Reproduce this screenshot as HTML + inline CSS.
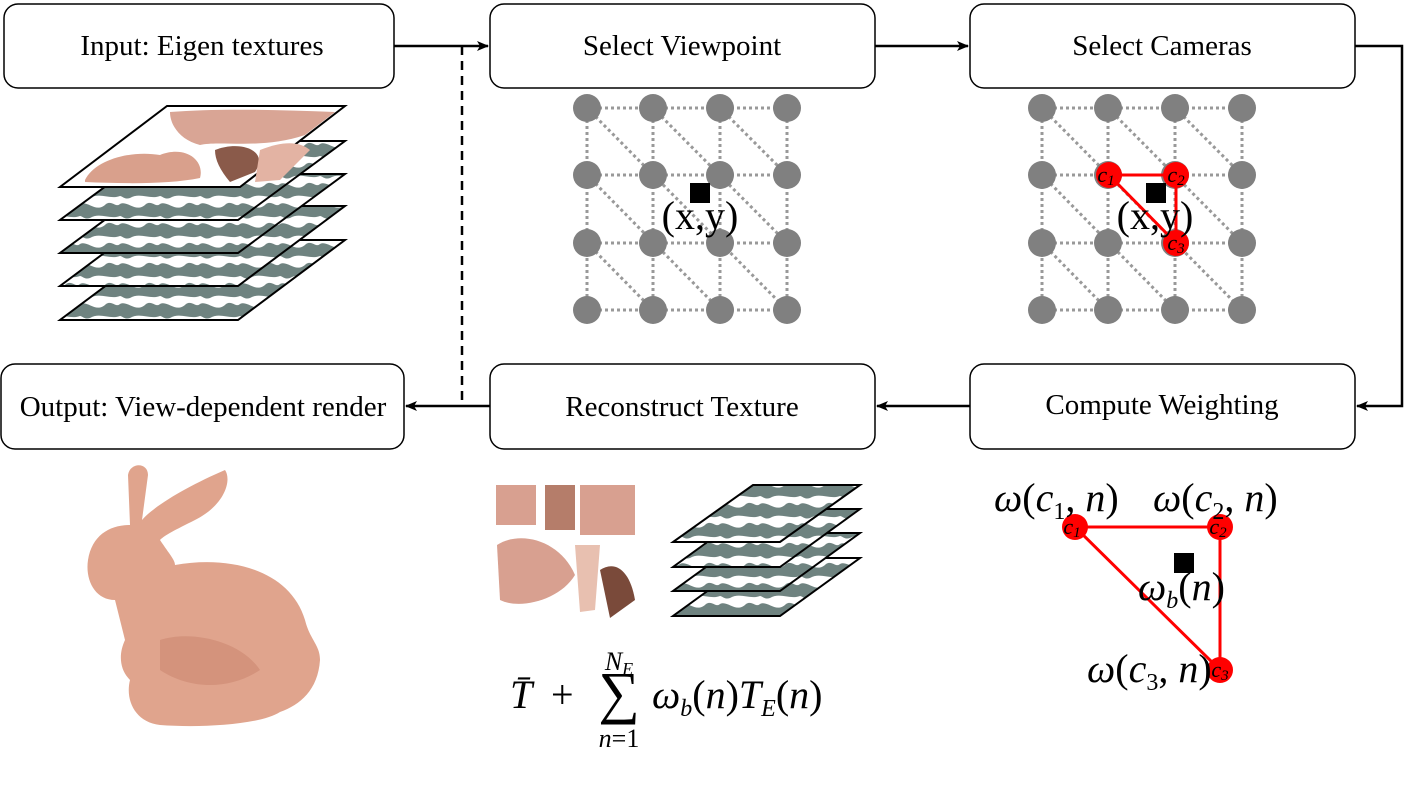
<!DOCTYPE html>
<html><head><meta charset="utf-8"><style>
html,body{margin:0;padding:0;background:#fff}
svg{display:block}
text{font-family:"Liberation Serif",serif}
</style></head><body>
<svg width="1404" height="796" viewBox="0 0 1404 796" xmlns="http://www.w3.org/2000/svg">
<defs>
<marker id="ar" markerWidth="12" markerHeight="10" refX="11" refY="5" orient="auto" markerUnits="userSpaceOnUse">
<path d="M0,0 L12,5 L0,10 L3,5 Z" fill="#000"/></marker>
<pattern id="gr" width="40" height="20" patternUnits="userSpaceOnUse">
<rect width="40" height="20" fill="#fff"/>
<path d="M0,4 C8,0 16,14 26,4 C32,0 36,8 40,4 L40,16 C30,20 20,12 10,18 C5,20 2,16 0,16Z" fill="#6f8380"/>
</pattern>
</defs>
<g fill="#fff" stroke="#000" stroke-width="1.5">
<rect x="4" y="4" width="390" height="84" rx="14"/>
<rect x="490" y="4" width="385" height="84" rx="14"/>
<rect x="970" y="4" width="385" height="84" rx="14"/>
<rect x="1" y="364" width="403" height="85" rx="14"/>
<rect x="490" y="364" width="385" height="85" rx="14"/>
<rect x="970" y="364" width="385" height="85" rx="14"/>
</g>
<g font-size="29" text-anchor="middle" fill="#000">
<text x="202" y="55">Input: Eigen textures</text>
<text x="682" y="55">Select Viewpoint</text>
<text x="1162" y="55">Select Cameras</text>
<text x="203" y="416">Output: View-dependent render</text>
<text x="682" y="416">Reconstruct Texture</text>
<text x="1162" y="414">Compute Weighting</text>
</g>
<g stroke="#000" stroke-width="2.5" fill="none">
<path d="M394 46H488" marker-end="url(#ar)"/>
<path d="M875 46H968" marker-end="url(#ar)"/>
<path d="M1355 46H1402V406H1357" marker-end="url(#ar)"/>
<path d="M970 406H877" marker-end="url(#ar)"/>
<path d="M490 406H406" marker-end="url(#ar)"/>
<path d="M462 46V406" stroke-dasharray="9 6"/>
</g>
<g stroke="#000" stroke-width="2">
<path d="M167 240H345L238 320H60Z" fill="url(#gr)"/>
<path d="M167 206H345L238 286H60Z" fill="url(#gr)"/>
<path d="M167 174H345L238 253H60Z" fill="url(#gr)"/>
<path d="M167 141H345L238 220H60Z" fill="url(#gr)"/>
<path d="M167 106H345L240 187H60Z" fill="#fff"/>
</g>
<g fill="#d9a08c">
<path d="M85 180 C95 160 130 150 160 155 C185 145 205 160 200 178 C170 184 130 184 85 182Z"/>
<path d="M170 112 C220 108 280 110 335 112 L305 135 C260 150 220 140 200 145 C180 140 170 125 170 112Z" fill="#d9a595"/>
<path d="M215 150 C240 140 270 150 255 172 L230 182 C220 170 215 160 215 150Z" fill="#8a5a4a"/>
<path d="M260 150 C285 140 300 142 310 150 L280 180 L255 182Z" fill="#e3b3a3"/>
</g>
<g stroke="#999" stroke-width="3" stroke-dasharray="3 3" fill="none">
<path d="M587 108H787M587 175H787M587 243H787M587 310H787M587 108V310M653 108V310M720 108V310M787 108V310M587 108L787 310M653 108L787 243M720 108L787 175M587 175L720 310M587 243L653 310"/>
<path transform="translate(455 0)" d="M587 108H787M587 175H787M587 243H787M587 310H787M587 108V310M653 108V310M720 108V310M787 108V310M587 108L787 310M653 108L787 243M720 108L787 175M587 175L720 310M587 243L653 310"/>
</g>
<g fill="#808080">
<g id="gd">
<circle cx="587" cy="108" r="14"/><circle cx="653" cy="108" r="14"/><circle cx="720" cy="108" r="14"/><circle cx="787" cy="108" r="14"/>
<circle cx="587" cy="175" r="14"/><circle cx="653" cy="175" r="14"/><circle cx="720" cy="175" r="14"/><circle cx="787" cy="175" r="14"/>
<circle cx="587" cy="243" r="14"/><circle cx="653" cy="243" r="14"/><circle cx="720" cy="243" r="14"/><circle cx="787" cy="243" r="14"/>
<circle cx="587" cy="310" r="14"/><circle cx="653" cy="310" r="14"/><circle cx="720" cy="310" r="14"/><circle cx="787" cy="310" r="14"/>
</g>
<use href="#gd" transform="translate(455 0)"/>
</g>
<rect x="690" y="183" width="20" height="20" fill="#000"/>
<text x="700" y="229" font-size="40" text-anchor="middle">(x,y)</text>
<path d="M1109 175H1176V243Z" fill="none" stroke="#f00" stroke-width="3"/>
<g fill="#f00"><circle cx="1109" cy="175" r="13"/><circle cx="1176" cy="175" r="13"/><circle cx="1176" cy="243" r="13"/></g>
<rect x="1146" y="183" width="20" height="20" fill="#000"/>
<text x="1155" y="229" font-size="40" text-anchor="middle">(x,y)</text>
<g font-size="22" font-style="italic" text-anchor="middle"><text x="1106" y="182">c<tspan font-size="15" dy="3">1</tspan></text><text x="1176" y="182">c<tspan font-size="15" dy="3">2</tspan></text><text x="1176" y="250">c<tspan font-size="15" dy="3">3</tspan></text></g>
<path d="M128 475 C130 462 148 462 148 475 L142 520 C155 505 190 485 225 470 C232 480 225 505 195 520 C175 530 165 535 160 540 C170 555 175 560 175 565 C230 555 290 570 305 620 C310 640 320 645 320 660 C318 690 300 705 280 712 C260 725 200 728 160 725 C135 722 125 700 130 680 C120 670 118 655 125 640 L115 600 C95 600 85 580 88 560 C92 535 110 525 130 525 Z" fill="#e0a48d"/>
<path d="M160 640 C190 630 240 640 260 670 C230 690 190 690 160 670Z" fill="#d4937c"/>
<g fill="#d8a090">
<rect x="496" y="485" width="40" height="40"/>
<rect x="545" y="485" width="30" height="45" fill="#b57d6a"/>
<rect x="580" y="485" width="55" height="50"/>
<path d="M497 545 C520 530 560 540 575 575 C560 600 520 610 500 600Z"/>
<path d="M600 570 C615 560 630 570 635 600 L610 618Z" fill="#7a4a3a"/>
<path d="M575 545 L600 545 L595 610 L580 612Z" fill="#e8c0b0"/>
</g>
<g stroke="#000" stroke-width="2">
<path d="M753 558H860L780 616H673Z" fill="url(#gr)"/>
<path d="M753 533H860L780 591H673Z" fill="url(#gr)"/>
<path d="M753 509H860L780 567H673Z" fill="url(#gr)"/>
<path d="M753 485H860L780 542H673Z" fill="url(#gr)"/>
</g>
<text x="510" y="708" font-size="40" font-style="italic">T̄</text>
<text x="551" y="708" font-size="40">+</text>
<text x="619" y="712" font-size="58" text-anchor="middle">∑</text>
<text x="619" y="670" font-size="26" font-style="italic" text-anchor="middle">N<tspan font-size="18" dy="5">E</tspan></text>
<text x="619" y="747" font-size="26" text-anchor="middle"><tspan font-style="italic">n</tspan>=1</text>
<text x="652" y="708" font-size="40"><tspan font-style="italic">ω</tspan><tspan font-size="24" font-style="italic" dy="8">b</tspan><tspan dy="-8">(</tspan><tspan font-style="italic">n</tspan>)<tspan font-style="italic">T</tspan><tspan font-size="24" font-style="italic" dy="8">E</tspan><tspan dy="-8">(</tspan><tspan font-style="italic">n</tspan>)</text>
<path d="M1075 527H1220V670Z" fill="none" stroke="#f00" stroke-width="3"/>
<g fill="#f00"><circle cx="1075" cy="527" r="13"/><circle cx="1220" cy="527" r="13"/><circle cx="1220" cy="670" r="13"/></g>
<g font-size="22" font-style="italic" text-anchor="middle"><text x="1072" y="534">c<tspan font-size="15" dy="3">1</tspan></text><text x="1218" y="534">c<tspan font-size="15" dy="3">2</tspan></text><text x="1220" y="677">c<tspan font-size="15" dy="3">3</tspan></text></g>
<rect x="1174" y="553" width="20" height="20" fill="#000"/>
<g font-size="40">
<text x="994" y="511"><tspan font-style="italic">ω</tspan>(<tspan font-style="italic">c</tspan><tspan font-size="24" dy="8">1</tspan><tspan dy="-8">, </tspan><tspan font-style="italic">n</tspan>)</text>
<text x="1153" y="511"><tspan font-style="italic">ω</tspan>(<tspan font-style="italic">c</tspan><tspan font-size="24" dy="8">2</tspan><tspan dy="-8">, </tspan><tspan font-style="italic">n</tspan>)</text>
<text x="1138" y="600"><tspan font-style="italic">ω</tspan><tspan font-size="24" font-style="italic" dy="8">b</tspan><tspan dy="-8">(</tspan><tspan font-style="italic">n</tspan>)</text>
<text x="1087" y="682"><tspan font-style="italic">ω</tspan>(<tspan font-style="italic">c</tspan><tspan font-size="24" dy="8">3</tspan><tspan dy="-8">, </tspan><tspan font-style="italic">n</tspan>)</text>
</g>
</svg>
</body></html>
